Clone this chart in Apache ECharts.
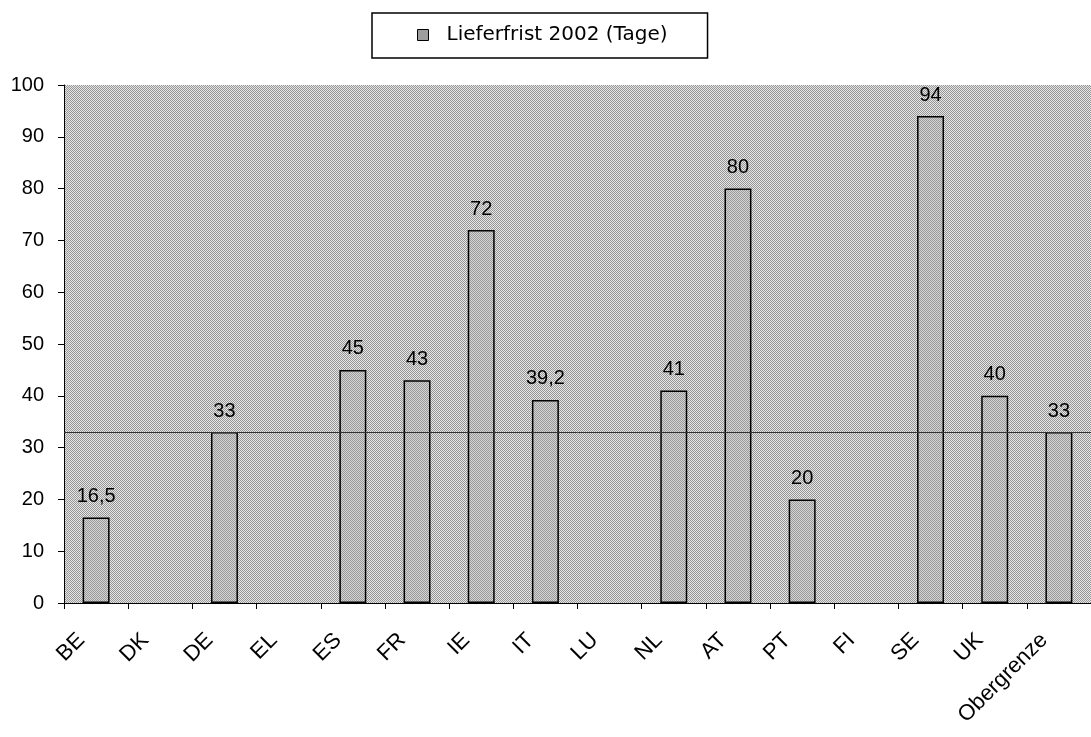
<!DOCTYPE html>
<html><head><meta charset="utf-8">
<script src="https://cdn.jsdelivr.net/npm/echarts@6/dist/echarts.min.js"></script>
<style>html,body{margin:0;padding:0;background:#fff}#c{width:1091px;height:737px}</style>
</head><body><div id="c"></div>
<script>
var categories = ['BE','DK','DE','EL','ES','FR','IE','IT','LU','NL','AT','PT','FI','SE','UK','Obergrenze'];
var values = [16.5, null, 33, null, 45, 43, 72, 39.2, null, 41, 80, 20, null, 94, 40, 33];
var limitValue = 33;
var yTicks = {min: 0, max: 100, interval: 10};
var seriesName = 'Lieferfrist 2002 (Tage)';

function makePattern(c1, c2) {
  var cv = document.createElement('canvas');
  cv.width = 2; cv.height = 2;
  var ctx = cv.getContext('2d');
  ctx.fillStyle = c1; ctx.fillRect(0,0,2,2);
  ctx.fillStyle = c2; ctx.fillRect(0,0,1,1); ctx.fillRect(1,1,1,1);
  return {image: cv, repeat: 'repeat'};
}
var bgPattern = makePattern('#e6e6e6', '#969696');
var barPattern = makePattern('#d4d4d4', '#9a9a9a');
var iconPattern = makePattern('#f0f0f0', '#4a4a4a');

var chart = echarts.init(document.getElementById('c'), null, {renderer: 'canvas'});
var font = '"Liberation Sans", Arial, sans-serif';
chart.setOption({
  animation: false,
  textStyle: {fontFamily: font},
  legend: {
    top: 13, left: 372,
    data: [seriesName],
    borderColor: '#000', borderWidth: 1.5,
    padding: [12, 40, 13, 45],
    itemWidth: 11, itemHeight: 11, itemGap: 10,
    icon: 'rect',
    itemStyle: {color: iconPattern, borderColor: '#000', borderWidth: 1},
    textStyle: {fontSize: 20, color: '#000', fontFamily: '"DejaVu Sans", sans-serif', padding: [0, 0, 0, 13]}
  },
  grid: {
    left: 64, top: 85, width: 1031, bottom: 134,
    show: true, backgroundColor: bgPattern, borderWidth: 0
  },
  xAxis: {
    type: 'category', data: categories,
    axisLine: {lineStyle: {color: '#000', width: 1}},
    axisTick: {show: true, length: 6, lineStyle: {color: '#000'}},
    axisLabel: {rotate: 45, color: '#000', fontSize: 22, margin: 19, interval: 0, fontFamily: font,
      padding: [0, 21, 0, 0]},
    splitLine: {show: false}
  },
  yAxis: {
    type: 'value', min: yTicks.min, max: yTicks.max, interval: yTicks.interval,
    axisLine: {show: true, lineStyle: {color: '#000', width: 1}},
    axisTick: {show: true, length: 6, lineStyle: {color: '#000'}},
    axisLabel: {color: '#000', fontSize: 20, margin: 20, fontFamily: font},
    splitLine: {show: false}
  },
  series: [{
    name: seriesName, type: 'bar', data: values, barWidth: '42%',
    itemStyle: {color: barPattern, borderColor: '#000', borderWidth: 1.5},
    label: {show: true, position: 'top', distance: 11, color: '#000', fontSize: 20, fontFamily: font,
      formatter: function(p){ return String(p.value).replace('.', ','); }},
    markLine: {
      silent: true, symbol: 'none',
      label: {show: false},
      lineStyle: {color: '#333', width: 1, type: 'solid'},
      data: [{yAxis: limitValue}]
    }
  }]
});
</script></body></html>
